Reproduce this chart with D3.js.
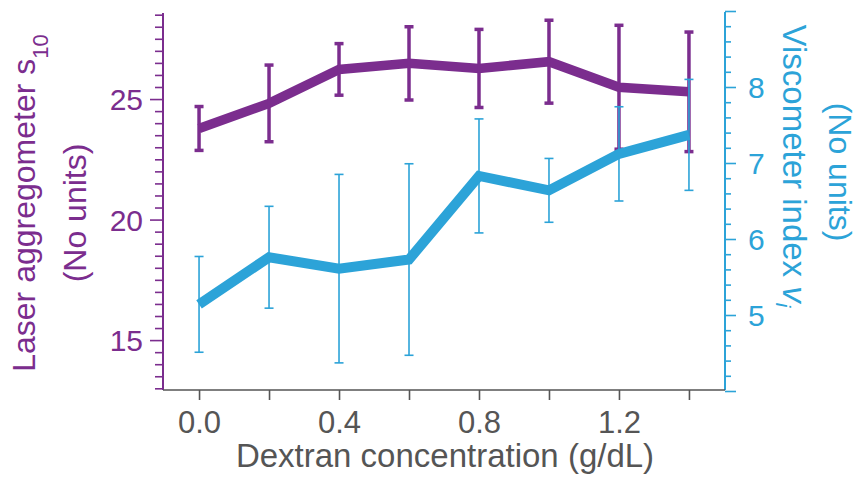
<!DOCTYPE html>
<html lang="en">
<head>
<meta charset="utf-8">
<title>Laser aggregometer vs viscometer</title>
<script src="https://d3js.org/d3.v7.min.js"></script>
<style>
  body { margin: 0; background: #fff; }
  text { font-family: "Liberation Sans", Arial, sans-serif; }
</style>
</head>
<body>
<script>
// values
var conc      = [0.0, 0.2, 0.4, 0.6, 0.8, 1.0, 1.2, 1.4];
var laser     = [23.78, 24.82, 26.23, 26.48, 26.27, 26.55, 25.49, 25.30];
var laserErr  = [0.91, 1.59, 1.07, 1.52, 1.62, 1.72, 2.57, 2.48];
var visc      = [5.14, 5.76, 5.61, 5.73, 6.83, 6.64, 7.12, 7.37];
var viscErr   = [0.63, 0.67, 1.24, 1.26, 0.75, 0.42, 0.62, 0.73];
var xTicks    = [0.0, 0.2, 0.4, 0.6, 0.8, 1.0, 1.2, 1.4];
var xLabels   = [0.0, 0.4, 0.8, 1.2];

var width = 857, height = 477;
var purple = "#7b2d8e", blue = "#2ca3d8", grey = "#555555";

var svg = d3.select("body").append("svg")
    .attr("width", width)
    .attr("height", height);

var x = d3.scaleLinear().domain([-0.103, 1.503]).range([163, 725]);
var yL = d3.scaleLinear().domain([12.93, 28.57]).range([390, 13]);
var yR = d3.scaleLinear().domain([4, 9]).range([391, 11]);

var leftTicks = d3.range(13, 28.51, 0.5);
var rightTicks = d3.range(4, 9.01, 0.2).map(function(d) { return +d.toFixed(1); });

// left axis
var gL = svg.append("g")
    .attr("transform", "translate(163,0)")
    .call(d3.axisLeft(yL).tickValues(leftTicks).tickSizeOuter(0)
      .tickFormat(function(d) { return d % 5 === 0 ? d : ""; }));
gL.select(".domain").attr("stroke", purple).attr("stroke-width", 2).attr("d", "M0,13V390");
gL.selectAll(".tick line").attr("stroke", purple).attr("stroke-width", 1.6)
    .attr("x2", function(d) { return d % 5 === 0 ? -13 : -8; });
gL.selectAll(".tick text").attr("fill", purple).attr("x", -20)
    .style("font-size", "30px").attr("dy", "0.36em");

// right axis
var gR = svg.append("g")
    .attr("transform", "translate(725,0)")
    .call(d3.axisRight(yR).tickValues(rightTicks).tickSizeOuter(0)
      .tickFormat(function(d) { return (d >= 5 && d <= 8 && Math.abs(d - Math.round(d)) < 1e-6) ? d : ""; }));
gR.select(".domain").attr("stroke", blue).attr("stroke-width", 2).attr("d", "M0,12V390");
gR.selectAll(".tick line").attr("stroke", blue).attr("stroke-width", 1.6)
    .attr("x2", function(d) { return Math.abs(d - Math.round(d)) < 1e-6 ? 11 : 6; });
gR.selectAll(".tick text").attr("fill", blue).attr("x", 23)
    .style("font-size", "30px").attr("dy", "0.36em");

// bottom axis
var gX = svg.append("g")
    .attr("transform", "translate(0,390)")
    .call(d3.axisBottom(x).tickValues(xTicks).tickSizeOuter(0)
      .tickFormat(function(d) { return xLabels.some(function(v) { return Math.abs(v - d) < 1e-6; }) ? d.toFixed(1) : ""; }));
gX.select(".domain").attr("stroke", grey).attr("stroke-width", 1.6).attr("d", "M163,0H725");
gX.selectAll(".tick line").attr("stroke", grey).attr("stroke-width", 1.6).attr("y2", 10);
gX.selectAll(".tick text").attr("fill", grey).attr("y", 43)
    .style("font-size", "31px").attr("dy", 0);

// laser series
var lineL = d3.line().x(function(d, i) { return x(conc[i]); }).y(function(d) { return yL(d); });
svg.append("path").datum(laser)
    .attr("d", lineL).attr("fill", "none")
    .attr("stroke", purple).attr("stroke-width", 9.5);

var ebL = svg.append("g").attr("stroke", purple).attr("stroke-width", 3.5).attr("fill", "none");
laser.forEach(function(v, i) {
  var cx = x(conc[i]), t = yL(v + laserErr[i]), b = yL(v - laserErr[i]);
  ebL.append("line").attr("x1", cx).attr("x2", cx).attr("y1", t).attr("y2", b);
  ebL.append("line").attr("x1", cx - 4.5).attr("x2", cx + 4.5).attr("y1", t).attr("y2", t);
  ebL.append("line").attr("x1", cx - 4.5).attr("x2", cx + 4.5).attr("y1", b).attr("y2", b);
});

// viscometer series
var ebR = svg.append("g").attr("stroke", blue).attr("stroke-width", 1.6).attr("fill", "none");
visc.forEach(function(v, i) {
  var cx = x(conc[i]), t = yR(v + viscErr[i]), b = yR(v - viscErr[i]);
  ebR.append("line").attr("x1", cx).attr("x2", cx).attr("y1", t).attr("y2", b);
  ebR.append("line").attr("x1", cx - 4.5).attr("x2", cx + 4.5).attr("y1", t).attr("y2", t);
  ebR.append("line").attr("x1", cx - 4.5).attr("x2", cx + 4.5).attr("y1", b).attr("y2", b);
});

var lineR = d3.line().x(function(d, i) { return x(conc[i]); }).y(function(d) { return yR(d); });
svg.append("path").datum(visc)
    .attr("d", lineR).attr("fill", "none")
    .attr("stroke", blue).attr("stroke-width", 10);

// titles
svg.append("text")
    .attr("x", 445).attr("y", 467)
    .attr("text-anchor", "middle").attr("fill", grey)
    .style("font-size", "33px")
    .text("Dextran concentration (g/dL)");

var tL = svg.append("text")
    .attr("transform", "translate(35,203) rotate(-90)")
    .attr("text-anchor", "middle").attr("fill", purple)
    .style("font-size", "32px");
tL.append("tspan").text("Laser aggregometer s");
tL.append("tspan").attr("dy", 13).style("font-size", "22px").text("10");

svg.append("text")
    .attr("transform", "translate(86,213) rotate(-90)")
    .attr("text-anchor", "middle").attr("fill", purple)
    .style("font-size", "32px")
    .text("(No units)");

var tR = svg.append("text")
    .attr("transform", "translate(783,166) rotate(90)")
    .attr("text-anchor", "middle").attr("fill", blue)
    .style("font-size", "33px");
tR.append("tspan").text("Viscometer index ");
tR.append("tspan").style("font-style", "italic").text("v");
tR.append("tspan").attr("dy", 7).style("font-size", "21px").style("font-style", "italic").text("i");

svg.append("text")
    .attr("transform", "translate(829,172) rotate(90)")
    .attr("text-anchor", "middle").attr("fill", blue)
    .style("font-size", "32px")
    .text("(No units)");
</script>
</body>
</html>
